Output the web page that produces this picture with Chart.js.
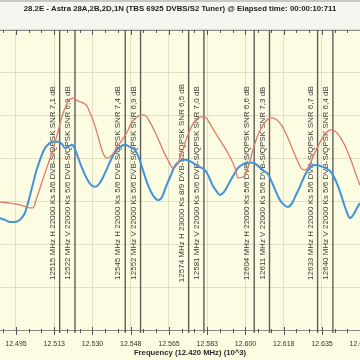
<!DOCTYPE html>
<html>
<head>
<meta charset="utf-8">
<script src="https://cdn.jsdelivr.net/npm/chart.js@4.4.1/dist/chart.umd.min.js"></script>
<style>
  html, body { margin: 0; padding: 0; background: #fbfbe4; }
  #wrap { width: 360px; height: 360px; }
</style>
</head>
<body>
<div id="wrap"><canvas id="spectrum" width="360" height="360"></canvas></div>
<script>
const chartTitle = '28.2E - Astra 28A,2B,2D,1N (TBS 6925 DVBS/S2 Tuner) @ Elapsed time: 00:00:10:711';
const axisTitle = 'Frequency (12.420 MHz) (10^3)';

// visible frequency window (MHz)
const freqMin = 12487.7;
const freqMax = 12652.4;

// labelled ticks
const majorTicks = [12495, 12512.5, 12530, 12547.5, 12565, 12582.5, 12600, 12617.5, 12635, 12652.5];
const tickLabels = ['12.495', '12.513', '12.530', '12.548', '12.565', '12.583', '12.600', '12.618', '12.635', '12.653'];

// red trace
const redFreq = [12487.7, 12492.3, 12496.8, 12501.4, 12502.8, 12504.6, 12506.9, 12509.2, 12511.9, 12514.2,
  12516.0, 12517.9, 12519.7, 12521.5, 12523.4, 12525.6, 12527.5, 12528.9, 12530.7, 12532.1,
  12533.4, 12534.8, 12536.6, 12538.0, 12539.4, 12541.2, 12543.5, 12545.8, 12548.1, 12550.4,
  12552.7, 12554.5, 12556.3, 12558.6, 12560.9, 12562.7, 12564.5, 12566.8, 12568.7, 12570.5,
  12572.3, 12574.2, 12576.0, 12578.3, 12580.1, 12581.9, 12583.8, 12586.0, 12588.3, 12590.6,
  12592.9, 12595.2, 12596.6, 12598.9, 12601.1, 12603.4, 12605.7, 12608.0, 12610.3, 12612.1,
  12614.4, 12616.7, 12619.0, 12621.3, 12623.6, 12625.4, 12627.2, 12629.1, 12630.9, 12633.2,
  12635.5, 12637.7, 12639.6, 12641.9, 12644.2, 12646.4, 12648.7, 12650.6, 12652.4];
const redLevel = [29.9, 29.6, 29.2, 28.5, 28.5, 31.0, 34.5, 38.0, 42.0, 46.2,
  49.7, 52.3, 53.9, 54.1, 53.4, 53.0, 52.3, 50.6, 48.3, 46.0,
  43.6, 41.3, 40.1, 40.4, 41.1, 42.7, 44.3, 46.2, 48.5, 49.7,
  50.2, 49.9, 48.5, 46.2, 43.6, 41.5, 39.7, 37.8, 38.5, 40.8,
  43.6, 46.2, 48.1, 49.5, 49.7, 49.5, 48.1, 46.2, 44.3, 42.5,
  40.4, 37.8, 35.5, 35.7, 37.8, 42.0, 45.5, 47.8, 49.2, 49.5,
  49.0, 47.6, 45.3, 42.5, 39.7, 37.8, 37.3, 38.3, 40.4, 42.9,
  45.0, 46.4, 46.7, 46.0, 44.3, 42.0, 39.0, 36.2, 33.8];

// blue trace
const blueFreq = [12487.7, 12490.0, 12492.3, 12494.5, 12496.8, 12499.1, 12500.5, 12502.3, 12504.2, 12506.0,
  12507.8, 12509.6, 12511.9, 12514.2, 12516.0, 12517.4, 12519.3, 12520.6, 12522.5, 12524.3,
  12526.6, 12528.9, 12531.1, 12533.4, 12535.7, 12538.0, 12540.3, 12542.6, 12544.9, 12547.2,
  12549.4, 12551.3, 12553.1, 12554.9, 12556.8, 12558.6, 12560.0, 12561.8, 12563.6, 12565.5,
  12567.8, 12570.0, 12572.3, 12574.6, 12576.9, 12579.2, 12581.5, 12583.3, 12585.1, 12587.0,
  12588.3, 12590.2, 12592.0, 12594.3, 12596.6, 12598.9, 12601.1, 12603.4, 12605.7, 12608.0,
  12610.3, 12612.1, 12614.0, 12615.8, 12617.6, 12619.4, 12621.3, 12623.1, 12624.9, 12626.8,
  12628.6, 12630.4, 12632.3, 12634.1, 12636.4, 12638.7, 12640.5, 12642.3, 12644.2, 12646.0,
  12647.8, 12649.6, 12651.5, 12652.4];
const blueLevel = [26.1, 25.7, 25.2, 25.2, 25.7, 27.3, 29.6, 33.1, 36.9, 39.7,
  42.0, 43.2, 43.9, 43.9, 43.4, 42.5, 42.9, 43.2, 41.5, 39.0,
  36.2, 34.1, 33.4, 34.3, 36.6, 39.2, 41.5, 42.7, 43.2, 42.7,
  42.0, 40.1, 37.3, 34.5, 32.2, 30.8, 30.3, 31.0, 33.4, 35.7,
  38.3, 39.4, 39.7, 39.4, 38.7, 38.0, 37.3, 35.7, 33.6, 32.2,
  31.5, 32.2, 33.8, 35.9, 37.8, 38.7, 39.0, 39.0, 38.3, 37.3,
  36.4, 34.5, 32.2, 30.3, 29.2, 28.7, 29.6, 31.5, 33.4, 35.7,
  37.3, 38.3, 38.5, 38.3, 37.8, 37.1, 35.7, 33.6, 30.8, 28.0,
  26.1, 27.1, 28.9, 29.6];

// transponder markers
const markerFreq = [12515, 12522, 12545, 12552, 12574, 12581, 12604, 12611, 12633, 12640];
const markerText = [
  '12515 MHz H 22000 Ks 5/6 DVB-S/QPSK SNR 7,1 dB',
  '12522 MHz V 22000 Ks 5/6 DVB-S/QPSK SNR 6,9 dB',
  '12545 MHz H 22000 Ks 5/6 DVB-S/QPSK SNR 7,4 dB',
  '12552 MHz V 22000 Ks 5/6 DVB-S/QPSK SNR 6,9 dB',
  '12574 MHz H 23000 Ks 8/9 DVB-S2/QPSK SNR 6,5 dB',
  '12581 MHz V 22000 Ks 5/6 DVB-S/QPSK SNR 7,0 dB',
  '12604 MHz H 22000 Ks 5/6 DVB-S/QPSK SNR 6,6 dB',
  '12611 MHz V 22000 Ks 5/6 DVB-S/QPSK SNR 7,3 dB',
  '12633 MHz H 22000 Ks 5/6 DVB-S/QPSK SNR 6,7 dB',
  '12640 MHz V 22000 Ks 5/6 DVB-S/QPSK SNR 6,4 dB'
];

const minorStep = 17.5 / 3;
const allTicks = [];
majorTicks.forEach(m => {
  for (let k = -2; k <= 0; k++) {
    const v = m + k * minorStep;
    if (v >= freqMin && v <= freqMax + 0.5) allTicks.push(v);
  }
});
const isMajor = v => majorTicks.some(m => Math.abs(m - v) < 0.01);

const toPoints = (xs, ys) => xs.map((x, i) => ({ x: x, y: ys[i] }));

// background, marker lines, tick marks, axis title
const spectrumDecor = {
  id: 'spectrumDecor',
  beforeDraw(chart) {
    const { ctx, chartArea: a } = chart;
    ctx.save();
    ctx.fillStyle = '#f6f6f0';
    ctx.fillRect(0, 0, 360, a.top);
    ctx.fillStyle = '#c8c8c4';
    ctx.fillRect(0, 0, 360, 2);
    ctx.fillStyle = '#fcfce2';
    ctx.fillRect(0, a.top, 360, 360 - a.top);
    ctx.restore();
  },
  beforeDatasetsDraw(chart) {
    const { ctx, chartArea: a } = chart;
    const xs = chart.scales.x;
    ctx.save();
    // frame lines top and bottom
    ctx.strokeStyle = '#8a8a80';
    ctx.lineWidth = 1;
    ctx.beginPath();
    ctx.moveTo(0, a.top + 0.5); ctx.lineTo(360, a.top + 0.5);
    ctx.moveTo(0, a.bottom + 0.5); ctx.lineTo(360, a.bottom + 0.5);
    ctx.stroke();
    // tick marks
    ctx.strokeStyle = '#555';
    ctx.beginPath();
    allTicks.forEach(v => {
      const px = Math.round(xs.getPixelForValue(v)) + 0.5;
      const big = isMajor(v);
      ctx.moveTo(px, a.top); ctx.lineTo(px, a.top + (big ? 5 : 3));
      ctx.moveTo(px, a.bottom - (big ? 3 : 1)); ctx.lineTo(px, a.bottom + (big ? 5 : 3));
    });
    ctx.stroke();
    // marker lines
    ctx.strokeStyle = '#5e5e58';
    ctx.lineWidth = 1.4;
    ctx.beginPath();
    markerFreq.forEach(f => {
      const px = xs.getPixelForValue(f);
      ctx.moveTo(px, a.top); ctx.lineTo(px, a.bottom + 3);
    });
    ctx.stroke();
    // marker labels
    ctx.fillStyle = '#3a3a3a';
    ctx.font = '8px "Liberation Sans", Arial, sans-serif';
    ctx.textAlign = 'center';
    ctx.textBaseline = 'middle';
    markerFreq.forEach((f, i) => {
      const px = xs.getPixelForValue(f);
      ctx.save();
      ctx.translate(px - 7, 183);
      ctx.rotate(-Math.PI / 2);
      ctx.fillText(markerText[i], 0, 0);
      ctx.restore();
    });
    ctx.restore();
  },
  afterDraw(chart) {
    const { ctx } = chart;
    ctx.save();
    ctx.fillStyle = '#2a2a2a';
    ctx.font = 'bold 7.7px "Liberation Sans", Arial, sans-serif';
    ctx.textAlign = 'center';
    ctx.textBaseline = 'middle';
    ctx.fillText(axisTitle, 190, 353);
    ctx.restore();
  }
};

new Chart(document.getElementById('spectrum'), {
  type: 'line',
  data: {
    datasets: [
      {
        label: 'red',
        data: toPoints(redFreq, redLevel),
        borderColor: 'rgb(224,122,106)',
        borderWidth: 1.3,
        pointRadius: 0,
        tension: 0.4,
        cubicInterpolationMode: 'monotone'
      },
      {
        label: 'blue',
        data: toPoints(blueFreq, blueLevel),
        borderColor: 'rgb(66,146,218)',
        borderWidth: 2,
        pointRadius: 0,
        tension: 0.4,
        cubicInterpolationMode: 'monotone'
      }
    ]
  },
  options: {
    responsive: false,
    devicePixelRatio: 1,
    animation: false,
    layout: { padding: 0 },
    plugins: {
      legend: { display: false },
      tooltip: { enabled: false },
      title: {
        display: true,
        text: chartTitle,
        color: '#222',
        font: { family: '"Liberation Sans", Arial, sans-serif', size: 7.8, weight: 'bold' },
        padding: { top: 4.5, bottom: 16.1 }
      }
    },
    scales: {
      x: {
        type: 'linear',
        min: freqMin,
        max: freqMax,
        afterBuildTicks: s => { s.ticks = allTicks.map(v => ({ value: v })); },
        afterFit: s => { s.height = 30; s.paddingLeft = 0; s.paddingRight = 0; },
        border: { display: false },
        grid: {
          drawTicks: false,
          color: ctx => (ctx.tick && isMajor(ctx.tick.value)) ? 'rgba(205,205,175,0.6)' : 'rgba(0,0,0,0)'
        },
        ticks: {
          autoSkip: false,
          maxRotation: 0,
          padding: 10,
          color: '#333',
          font: { family: '"Liberation Sans", Arial, sans-serif', size: 7 },
          callback: v => {
            const i = majorTicks.findIndex(m => Math.abs(m - v) < 0.01);
            return i >= 0 ? tickLabels[i] : '';
          }
        }
      },
      y: {
        min: 0,
        max: 70,
        afterFit: s => { s.width = 0; s.paddingTop = 0; s.paddingBottom = 0; },
        border: { display: false },
        grid: { drawTicks: false, color: 'rgba(205,205,175,0.6)' },
        ticks: { display: false, stepSize: 10 }
      }
    }
  },
  plugins: [spectrumDecor]
});
</script>
</body>
</html>
